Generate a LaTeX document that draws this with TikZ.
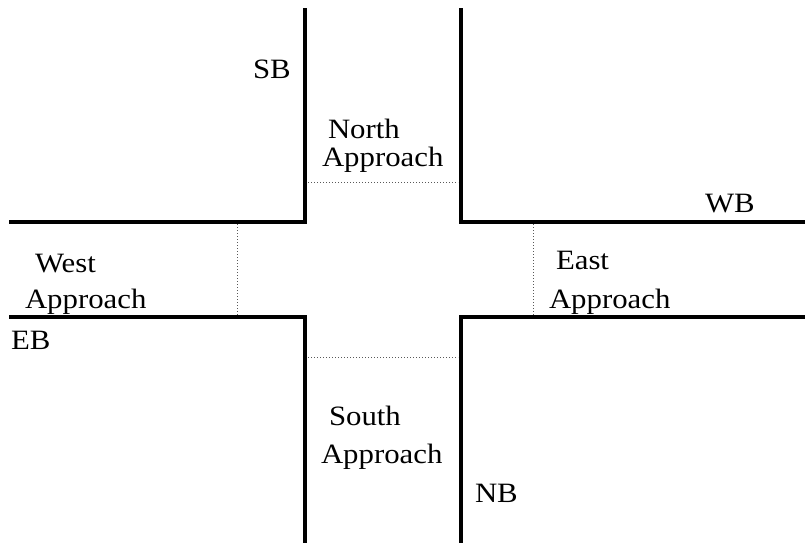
\documentclass[tikz,border=0pt]{standalone}
\usepackage{fontspec}
\setmainfont{Liberation Serif}
\begin{document}
\begin{tikzpicture}[x=1pt,y=-1pt,
  curb/.style={line width=4.5pt,line cap=rect,line join=miter},
  stopline/.style={line width=1pt,dotted,gray!70!black},
  lbl/.style={anchor=base west,inner sep=0pt,outer sep=0pt,font=\fontsize{28}{28}\selectfont}]
\useasboundingbox (0,0) rectangle (805,543);
% corners
\coordinate (nwA) at (11,222); \coordinate (nwB) at (305,222); \coordinate (nwC) at (305,10);
\coordinate (neA) at (805,222); \coordinate (neB) at (461,222); \coordinate (neC) at (461,10);
\coordinate (swA) at (11,317); \coordinate (swB) at (305,317); \coordinate (swC) at (305,541);
\coordinate (seA) at (805,317); \coordinate (seB) at (461,317); \coordinate (seC) at (461,541);
\draw[curb] (nwA) -- (nwB) -- (nwC);
\draw[curb] (neA) -- (neB) -- (neC);
\draw[curb] (swA) -- (swB) -- (swC);
\draw[curb] (seA) -- (seB) -- (seC);
% stop lines
\coordinate (n1) at (308,182); \coordinate (n2) at (458,182);
\coordinate (s1) at (308,357); \coordinate (s2) at (458,357);
\coordinate (w1) at (237,224); \coordinate (w2) at (237,315);
\coordinate (e1) at (533,224); \coordinate (e2) at (533,315);
\draw[stopline] (n1) -- (n2);
\draw[stopline] (s1) -- (s2);
\draw[stopline] (w1) -- (w2);
\draw[stopline] (e1) -- (e2);
% labels
\node[lbl] (sb) at (253,78) {\scalebox{1.1}[1]{SB}};
\node[lbl] (north) at (328,138) {\scalebox{1.1}[1]{North}};
\node[lbl] (napp) at (322,166) {\scalebox{1.1}[1]{Approach}};
\node[lbl] (wb) at (705,212) {\scalebox{1.1}[1]{WB}};
\node[lbl] (west) at (35,272) {\scalebox{1.1}[1]{West}};
\node[lbl] (wapp) at (25,308) {\scalebox{1.1}[1]{Approach}};
\node[lbl] (eb) at (11,349) {\scalebox{1.1}[1]{EB}};
\node[lbl] (east) at (556,269) {\scalebox{1.1}[1]{East}};
\node[lbl] (eapp) at (549,308) {\scalebox{1.1}[1]{Approach}};
\node[lbl] (south) at (329,425) {\scalebox{1.1}[1]{South}};
\node[lbl] (sapp) at (321,463) {\scalebox{1.1}[1]{Approach}};
\node[lbl] (nb) at (475,502) {\scalebox{1.1}[1]{NB}};
\end{tikzpicture}
\end{document}
